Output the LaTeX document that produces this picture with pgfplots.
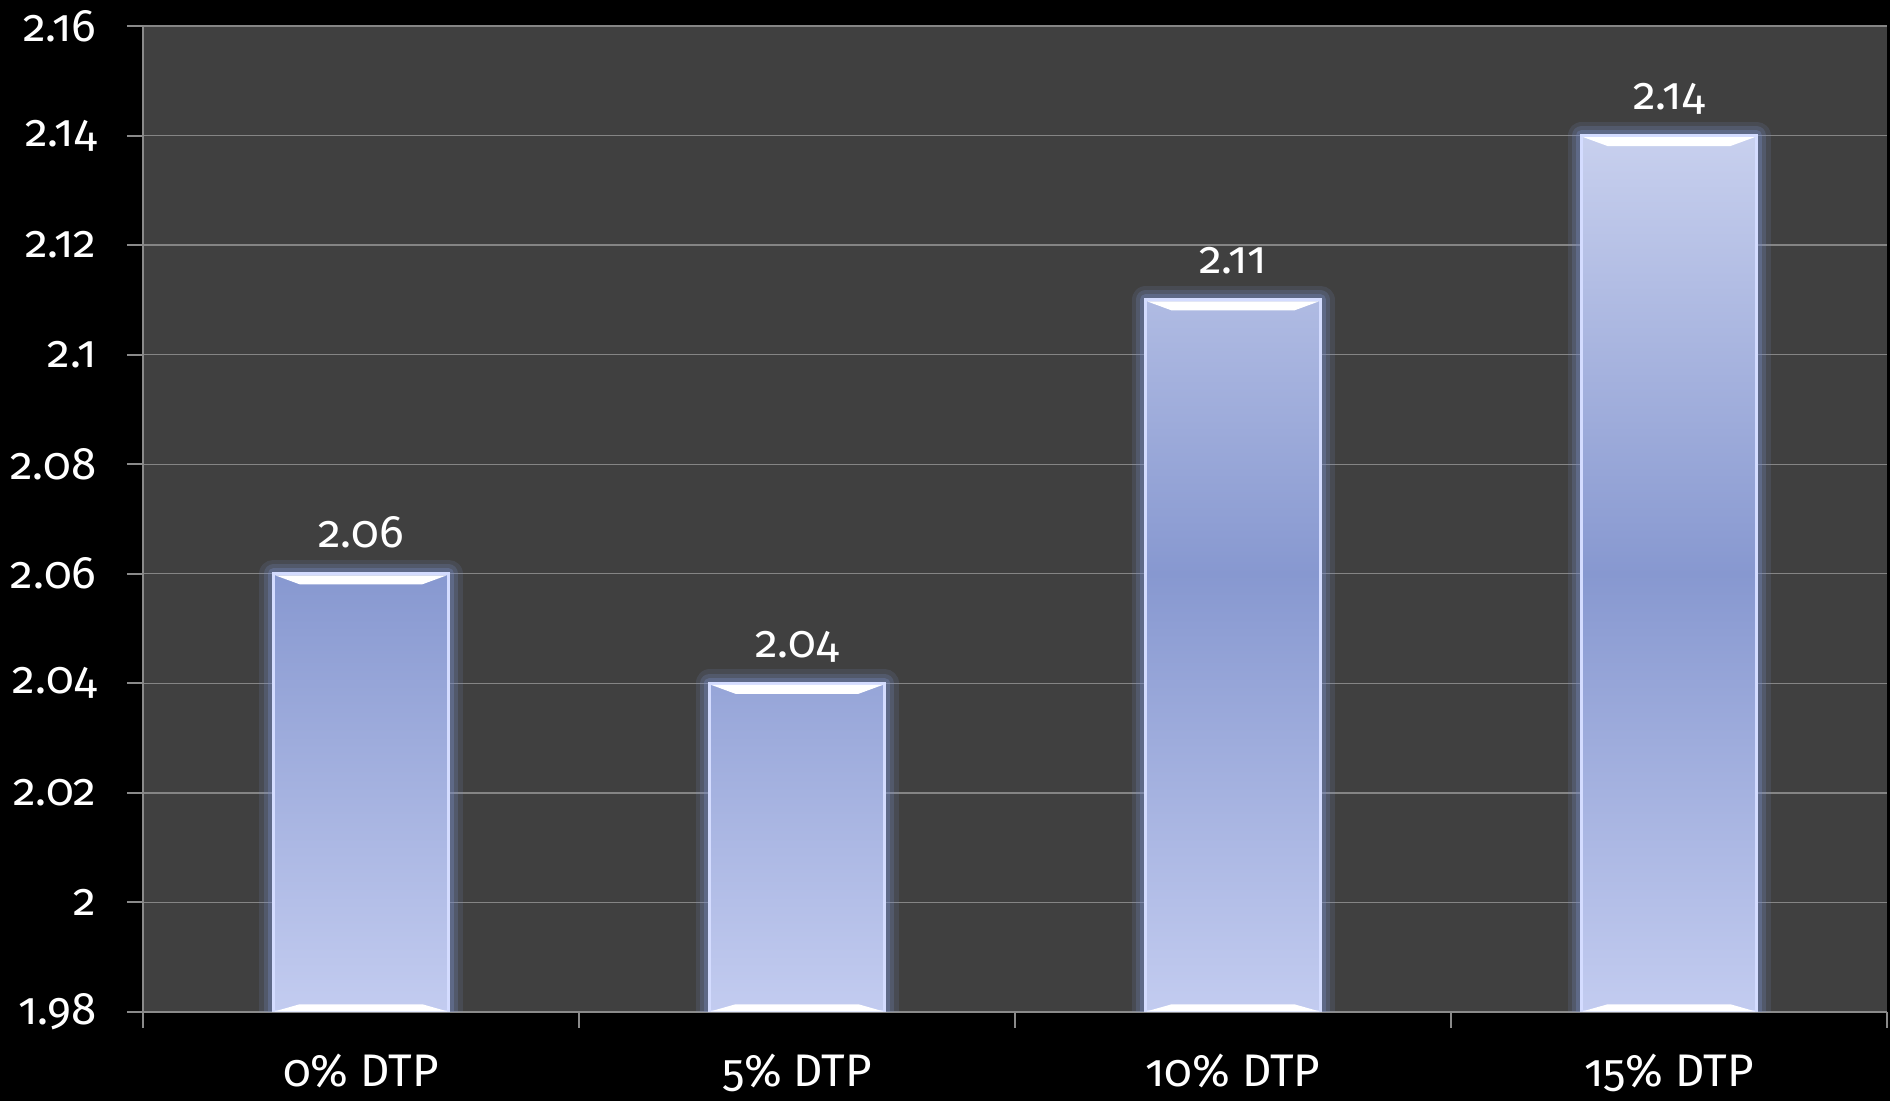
\documentclass[border=0pt]{standalone}
\usepackage{fontspec}
\setmainfont[Numbers=OldStyle]{Fira Sans}
\usepackage{pgfplots}
\pgfplotsset{compat=1.18}
\usepackage{pgfplotstable}
\usetikzlibrary{shapes.geometric}

\definecolor{plotbg}{HTML}{404040}
\definecolor{gridgray}{HTML}{858585}
\definecolor{axisgray}{HTML}{8A8A8A}
\definecolor{glow}{HTML}{7A8CC4}
\definecolor{bartop}{HTML}{C8D0EE}
\definecolor{barmid}{HTML}{8798D0}
\definecolor{barbot}{HTML}{C3CCF0}
\definecolor{baredge}{HTML}{D4DCFF}

% mean value per DTP share
\pgfplotstableread{
x y
0 2.06
1 2.04
2 2.11
3 2.14
}\dtp

\begin{document}
\begin{tikzpicture}
\fill[black] (0,0) rectangle (189mm,110.1mm);
\begin{axis}[
  at={(14.3mm,8.9mm)}, anchor=south west,
  scale only axis, width=174.4mm, height=98.6mm,
  xmin=-0.5, xmax=3.5, ymin=0, ymax=0.18,
  axis background/.style={fill=plotbg},
  axis lines*=left,
  axis line style={axisgray, line width=0.2mm},
  % bars start at the axis floor of 1.98
  y filter/.expression={y-1.98},
  ytick={0,0.02,0.04,0.06,0.08,0.1,0.12,0.14,0.16,0.18},
  yticklabels={1.98,2,2.02,2.04,2.06,2.08,2.1,2.12,2.14,2.16},
  ymajorgrids, grid style={gridgray, line width=0.13mm},
  tick align=outside, major tick length=1.6mm,
  tick style={axisgray, line width=0.2mm},
  xtick={-0.5,0.5,1.5,2.5,3.5}, xticklabels={},
  extra x ticks={0,1,2,3},
  extra x tick labels={0\% DTP,5\% DTP,10\% DTP,15\% DTP},
  extra x tick style={major tick length=0pt, tick style={draw=none},
    tick label style={yshift=-3mm}},
  ticklabel style={white, font=\fontsize{13}{15}\selectfont},
  yticklabel style={xshift=-1.8mm},
  /pgf/number format/assume math mode=true,
]
% soft glow round each bar
\addplot[ybar, bar width=17.5mm, fill=none, draw=glow, draw opacity=0.15,
  line width=2.8mm, line join=round] table[x=x,y=y]{\dtp};
\addplot[ybar, bar width=17.5mm, fill=none, draw=glow, draw opacity=0.22,
  line width=1.9mm, line join=round] table[x=x,y=y]{\dtp};
\addplot[ybar, bar width=17.5mm, fill=none, draw=glow, draw opacity=0.32,
  line width=1.1mm, line join=round] table[x=x,y=y]{\dtp};
% bars, with a bevelled white cap
\addplot[ybar, bar width=17.5mm, draw=baredge, line width=0.3mm,
  top color=bartop, bottom color=barbot, middle color=barmid,
  nodes near coords={},
  every node near coord/.style={trapezium, trapezium angle=45,
    trapezium stretches=true,
    shape border rotate=180, fill=white, draw=none,
    inner xsep=0.5pt, inner ysep=0.1pt,
    minimum width=17.2mm, minimum height=0.9mm, anchor=north}]
  table[x=x,y=y]{\dtp};
% bevelled white foot of each bar
\addplot[ybar, bar width=17.5mm, draw=none, fill=none,
  visualization depends on={\thisrow{y}-1.98 \as \fy},
  nodes near coords={},
  every node near coord/.style={trapezium, trapezium angle=45,
    trapezium stretches=true,
    fill=white, draw=none, inner xsep=0.5pt, inner ysep=0.1pt,
    minimum width=17.2mm, minimum height=0.7mm,
    anchor=south, yshift={-\fy*547.78mm}}]
  table[x=x,y=y]{\dtp};
% value labels
\addplot[ybar, bar width=17.5mm, draw=none, fill=none,
  point meta=\thisrow{y},
  nodes near coords,
  every node near coord/.style={white, font=\fontsize{13}{15}\selectfont,
    anchor=base, yshift=2.6mm}]
  table[x=x,y=y]{\dtp};
\end{axis}
\pgfresetboundingbox
\useasboundingbox (0,0) rectangle (189mm,110.1mm);
\end{tikzpicture}
\end{document}
